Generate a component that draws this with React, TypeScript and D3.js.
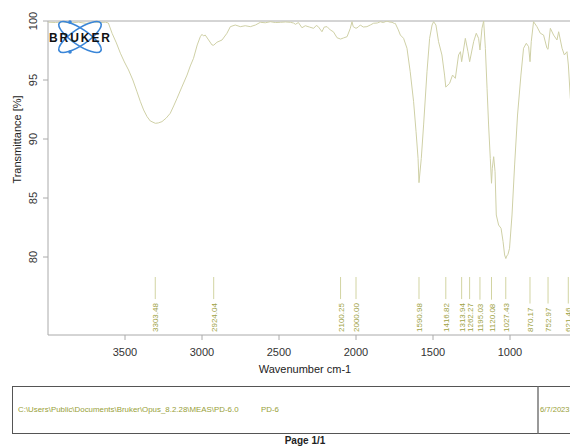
import { useEffect, useRef } from "react";
import * as d3 from "d3";

// spectrum (wavenumber cm-1, transmittance %)
const wavenumbers = [
  3998, 3952, 3907, 3855, 3803, 3751, 3699, 3660, 3628, 3608, 3584, 3556, 3530, 3504, 3477, 3449,
  3422, 3401, 3379, 3357, 3336, 3303, 3284, 3260, 3232, 3206, 3184, 3162, 3131, 3097, 3076, 3055,
  3031, 3011, 3000, 2990, 2979, 2957, 2935, 2924, 2903, 2870, 2838, 2816, 2784, 2751, 2719, 2686,
  2653, 2621, 2589, 2556, 2524, 2491, 2458, 2426, 2406, 2393, 2374, 2351, 2329, 2303, 2275, 2258,
  2245, 2221, 2206, 2188, 2167, 2147, 2123, 2100, 2082, 2058, 2037, 2026, 2018, 2000, 1985, 1972,
  1953, 1929, 1907, 1886, 1862, 1842, 1823, 1799, 1784, 1766, 1751, 1745, 1725, 1712, 1691, 1669,
  1648, 1626, 1610, 1597, 1591, 1576, 1561, 1539, 1522, 1506, 1496, 1481, 1464, 1442, 1425, 1417,
  1392, 1373, 1355, 1334, 1322, 1314, 1290, 1273, 1262, 1236, 1219, 1204, 1195, 1182, 1171, 1160,
  1149, 1139, 1128, 1120, 1115, 1106, 1097, 1089, 1074, 1058, 1045, 1035, 1027, 1021, 1013, 1003,
  987, 970, 951, 929, 912, 894, 879, 870, 862, 847, 825, 803, 782, 760, 753, 738, 717, 695, 684,
  662, 647, 630, 621, 608, 576,
];
const transmittance = [
  99.9, 99.87, 99.93, 99.83, 99.9, 99.8, 99.9, 99.87, 99.9, 99.83, 98.96, 98.14, 97.27, 96.53, 95.85, 95.0,
  94.0, 93.2, 92.46, 91.9, 91.53, 91.33, 91.36, 91.47, 91.78, 92.18, 92.8, 93.45, 94.4, 95.42, 96.19, 96.84,
  97.97, 98.67, 98.87, 98.73, 98.81, 98.39, 97.97, 97.95, 98.2, 98.39, 98.96, 99.52, 99.66, 99.52, 99.6, 99.52,
  99.66, 99.89, 99.85, 99.94, 99.87, 99.89, 99.92, 99.89, 99.83, 99.72, 99.87, 99.43, 99.6, 99.49, 99.38, 99.62,
  99.52, 99.09, 99.49, 99.52, 99.24, 99.09, 98.58, 98.47, 98.56, 98.67, 99.38, 99.94, 99.52, 99.38, 99.49, 99.66,
  99.49, 99.52, 99.66, 99.81, 99.83, 99.94, 99.87, 100.0, 99.92, 99.89, 99.79, 99.8, 99.24, 98.81, 98.53, 97.69,
  95.7, 93.16, 90.62, 88.36, 86.3, 88.36, 91.19, 95.7, 98.53, 99.66, 99.94, 99.66, 98.25, 97.12, 95.42, 94.4,
  94.72, 95.42, 95.14, 97.12, 97.4, 96.55, 98.53, 97.4, 96.55, 98.25, 98.96, 98.53, 97.54, 99.38, 100.0, 97.69,
  94.3, 91.19, 88.36, 86.25, 87.52, 88.5, 87.23, 83.56, 82.71, 82.43, 81.3, 80.17, 79.87, 80.08, 80.23, 80.74,
  83.56, 87.8, 92.03, 95.42, 97.69, 98.11, 97.82, 96.55, 98.25, 99.94, 99.52, 98.96, 98.81, 97.69, 97.6, 99.38, 98.81, 98.39, 99.09,
  97.69, 97.12, 97.4, 96.27, 93.45, 89.9,
];

const peakPositions = [3303.48, 2924.04, 2100.25, 2000.0, 1590.98, 1416.82, 1313.94, 1262.27, 1195.03, 1120.08, 1027.43, 870.17, 752.97, 621.46];
const peakLabels = ["3303.48", "2924.04", "2100.25", "2000.00", "1590.98", "1416.82", "1313.94", "1262.27", "1195.03", "1120.08", "1027.43", "870.17", "752.97", "621.46"];

const xTicks = [3500, 3000, 2500, 2000, 1500, 1000];
const yTicks = [100, 95, 90, 85, 80];

const footerPath = "C:\\Users\\Public\\Documents\\Bruker\\Opus_8.2.28\\MEAS\\PD-6.0";
const footerSample = "PD-6";
const footerDate = "6/7/2023";

const font = "Arial, 'Liberation Sans', sans-serif";

export default function App() {
  const ref = useRef<SVGSVGElement | null>(null);
  const width = 570;
  const height = 447;
  const plotLeft = 48;
  const plotTop = 21;
  const plotBottom = 335;

  useEffect(() => {
    const svg = d3.select(ref.current);
    svg.selectAll("*").remove();

    const x = d3.scaleLinear().domain([4000, 400]).range([plotLeft, plotLeft + 3600 * 0.154]);
    const y = d3.scaleLinear().domain([100, 80]).range([plotTop, plotTop + 20 * 11.8]);

    svg.append("rect").attr("width", width).attr("height", height).attr("fill", "#fff");

    svg.append("defs").append("clipPath").attr("id", "plot-clip")
      .append("rect")
      .attr("x", plotLeft).attr("y", plotTop)
      .attr("width", x(400) - plotLeft).attr("height", plotBottom - plotTop);

    // frame
    svg.append("line").attr("x1", plotLeft).attr("x2", width).attr("y1", plotTop).attr("y2", plotTop)
      .attr("stroke", "#aaa");
    svg.append("line").attr("x1", plotLeft).attr("x2", plotLeft).attr("y1", plotTop).attr("y2", plotBottom)
      .attr("stroke", "#aaa");
    svg.append("line").attr("x1", plotLeft).attr("x2", width).attr("y1", plotBottom).attr("y2", plotBottom)
      .attr("stroke", "#aaa");

    // y ticks
    const yAxis = svg.append("g");
    yTicks.forEach((t) => {
      yAxis.append("line").attr("x1", plotLeft - 5).attr("x2", plotLeft).attr("y1", y(t)).attr("y2", y(t))
        .attr("stroke", "#aaa");
      yAxis.append("text")
        .attr("transform", `translate(${plotLeft - 11},${y(t)}) rotate(-90)`)
        .attr("text-anchor", "middle")
        .attr("font-family", font).attr("font-size", 11).attr("fill", "#333")
        .text(t);
    });
    svg.append("text")
      .attr("transform", `translate(21,${(plotTop + 258) / 2}) rotate(-90)`)
      .attr("text-anchor", "middle")
      .attr("font-family", font).attr("font-size", 11).attr("fill", "#222")
      .text("Transmittance [%]");

    // x ticks
    const xAxis = svg.append("g");
    xTicks.forEach((t) => {
      xAxis.append("line").attr("x1", x(t)).attr("x2", x(t)).attr("y1", plotBottom).attr("y2", plotBottom + 5)
        .attr("stroke", "#aaa");
      xAxis.append("text")
        .attr("x", x(t)).attr("y", plotBottom + 21)
        .attr("text-anchor", "middle")
        .attr("font-family", font).attr("font-size", 11).attr("fill", "#333")
        .text(t);
    });
    svg.append("text")
      .attr("x", 305).attr("y", plotBottom + 38)
      .attr("text-anchor", "middle")
      .attr("font-family", font).attr("font-size", 11).attr("fill", "#222")
      .text("Wavenumber cm-1");

    // spectrum
    const line = d3.line<number>()
      .x((_, i) => x(wavenumbers[i]))
      .y((d) => y(d));
    svg.append("path")
      .attr("clip-path", "url(#plot-clip)")
      .attr("d", line(transmittance))
      .attr("fill", "none")
      .attr("stroke", "#cfd0a6")
      .attr("stroke-width", 1);

    // peak picks
    const peaks = svg.append("g");
    peakPositions.forEach((p, i) => {
      const label = peaks.append("text")
        .attr("transform", `translate(${x(p) + 3},${plotBottom - 3}) rotate(-90)`)
        .attr("font-family", font).attr("font-size", 8).attr("fill", "#9ea244")
        .text(peakLabels[i]);
      const len = (label.node() as SVGTextElement).getComputedTextLength();
      peaks.append("line")
        .attr("x1", x(p)).attr("x2", x(p))
        .attr("y1", 277).attr("y2", plotBottom - 3 - len - 4)
        .attr("stroke", "#d2d4a2");
    });

    // logo
    const logo = svg.append("g").attr("transform", "translate(80,37)");
    [-34, 34].forEach((a) => {
      logo.append("ellipse").attr("rx", 25).attr("ry", 8).attr("transform", `rotate(${a})`)
        .attr("fill", "none").attr("stroke", "#3a86d8").attr("stroke-width", 1.6);
    });
    logo.append("circle").attr("cx", -10).attr("cy", -15).attr("r", 1.8).attr("fill", "#3a86d8");
    logo.append("circle").attr("cx", -10).attr("cy", 15).attr("r", 1.8).attr("fill", "#3a86d8");
    svg.append("text")
      .attr("x", 49).attr("y", 42)
      .attr("font-family", font).attr("font-size", 12).attr("font-weight", 900)
      .attr("textLength", 61).attr("lengthAdjust", "spacing")
      .attr("fill", "#111")
      .text("BRUKER");

    // footer box
    svg.append("rect")
      .attr("x", 12.5).attr("y", 386.5).attr("width", 600).attr("height", 47)
      .attr("fill", "none").attr("stroke", "#555").attr("stroke-width", 1);
    svg.append("line").attr("x1", 538).attr("x2", 538).attr("y1", 386.5).attr("y2", 433.5)
      .attr("stroke", "#777").attr("stroke-width", 1.5);
    svg.append("text").attr("x", 18).attr("y", 412)
      .attr("font-family", font).attr("font-size", 7.9).attr("fill", "#98a038")
      .text(footerPath);
    svg.append("text").attr("x", 261).attr("y", 412)
      .attr("font-family", font).attr("font-size", 7.9).attr("fill", "#98a038")
      .text(footerSample);
    svg.append("text").attr("x", 540).attr("y", 412)
      .attr("font-family", font).attr("font-size", 7.6).attr("fill", "#98a038")
      .text(footerDate);
    svg.append("text").attr("x", 305).attr("y", 444)
      .attr("text-anchor", "middle")
      .attr("font-family", font).attr("font-size", 10).attr("font-weight", "bold").attr("fill", "#222")
      .text("Page 1/1");
  }, []);

  return (
    <svg
      ref={ref}
      width={width}
      height={height}
      style={{ position: "absolute", left: 0, top: 0, display: "block" }}
    />
  );
}
